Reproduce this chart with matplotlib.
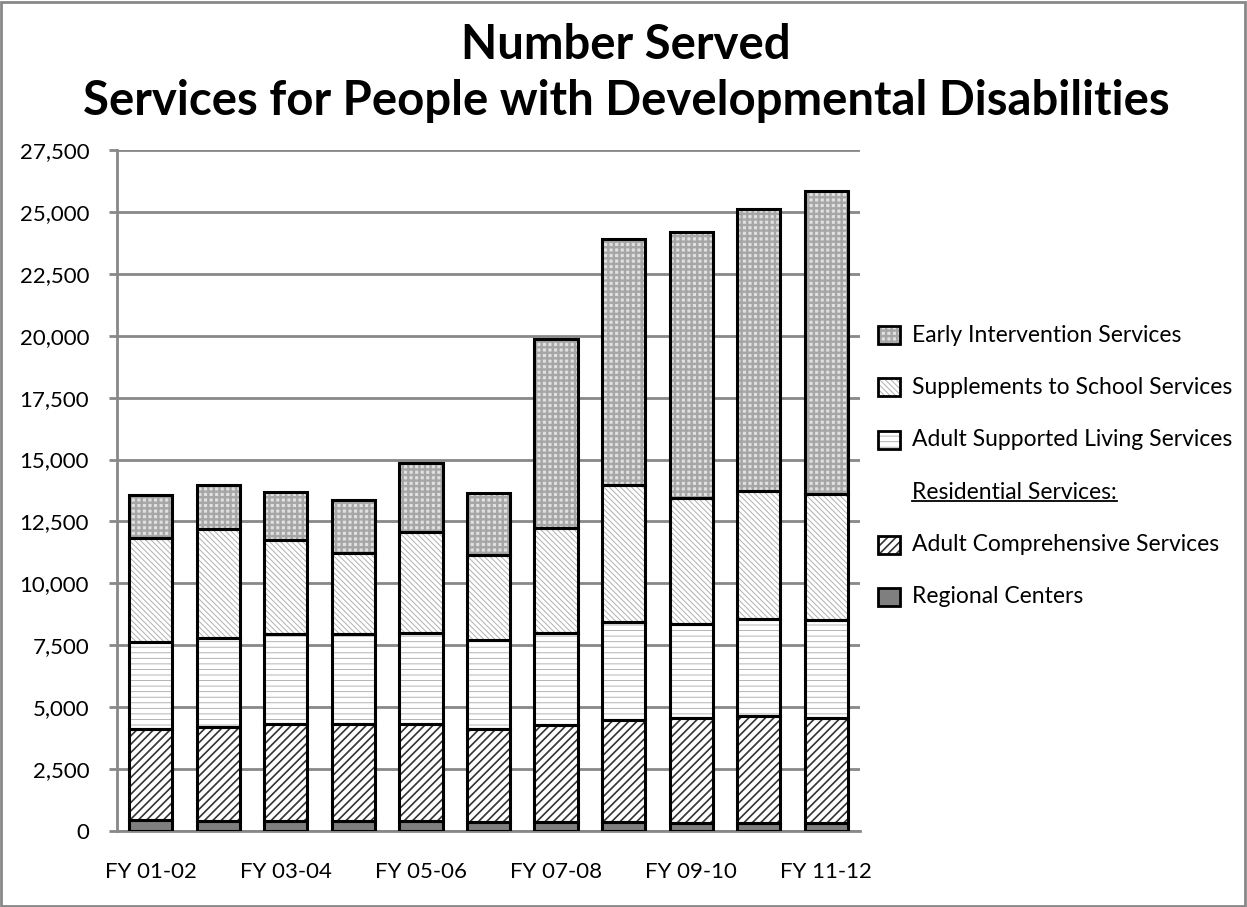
import numpy as np
import matplotlib.pyplot as plt
from matplotlib.patches import Rectangle
from matplotlib.lines import Line2D
from matplotlib.ticker import FuncFormatter

plt.rcParams['font.family'] = ['Lato', 'DejaVu Sans']

# Fiscal years and number served per program (stacked bottom to top)
years = ['FY 01-02', 'FY 02-03', 'FY 03-04', 'FY 04-05', 'FY 05-06', 'FY 06-07',
         'FY 07-08', 'FY 08-09', 'FY 09-10', 'FY 10-11', 'FY 11-12']
regional_centers = [430, 410, 420, 410, 420, 350, 350, 350, 340, 310, 310]
adult_comprehensive = [3680, 3780, 3890, 3900, 3910, 3750, 3920, 4150, 4210, 4330, 4260]
adult_supported_living = [3520, 3590, 3660, 3660, 3680, 3600, 3720, 3930, 3790, 3930, 3950]
school_supplements = [4220, 4400, 3770, 3270, 4070, 3450, 4250, 5540, 5110, 5140, 5100]
early_intervention = [1720, 1790, 1930, 2110, 2780, 2490, 7610, 9950, 10720, 11390, 12220]

# label, values, face colour, hatch, hatch colour, hatch line width
series = [
    ('Regional Centers', regional_centers, '#7f7f7f', '', '#7f7f7f', 1.0),
    ('Adult Comprehensive Services', adult_comprehensive, 'white', '////', '#333333', 1.2),
    ('Adult Supported Living Services', adult_supported_living, 'white', '---', '#a8a8a8', 0.6),
    ('Supplements to School Services', school_supplements, 'white', '\\\\\\\\\\\\', '#b0b0b0', 0.7),
    ('Early Intervention Services', early_intervention, '#e0e0e0', '+++', '#a6a6a6', 1.7),
]

fig = plt.figure(figsize=(12.47, 9.07), dpi=100)
ax = fig.add_axes([0.0938, 0.0838, 0.5959, 0.7508])

x = np.arange(len(years))
width = 0.64
bottom = np.zeros(len(years))
for label, values, face, hatch, hcolor, hlw in series:
    with plt.rc_context({'hatch.linewidth': hlw}):
        ax.bar(x, values, width, bottom=bottom, color=face, hatch=hatch,
               edgecolor=hcolor, linewidth=0, zorder=2)
    ax.bar(x, values, width, bottom=bottom, fill=False, edgecolor='black',
           linewidth=2.2, zorder=3)
    bottom += np.array(values)

ax.set_xlim(-0.5, len(years) - 0.5)
ax.set_ylim(0, 27500)
ax.set_yticks(np.arange(0, 27501, 2500))
ax.yaxis.set_major_formatter(FuncFormatter(lambda v, p: f'{int(v):,}'))
ax.set_xticks(x[::2])
ax.set_xticklabels(years[::2])
ax.tick_params(axis='y', labelsize=16, color='#888888', length=6, width=2, pad=14)
ax.tick_params(axis='x', labelsize=16, length=0, pad=22)
ax.grid(axis='y', color='#888888', linewidth=2, zorder=1)
ax.set_axisbelow(True)
for side in ['top', 'right']:
    ax.spines[side].set_visible(False)
for side in ['left', 'bottom']:
    ax.spines[side].set_color('#888888')
    ax.spines[side].set_linewidth(2)

fig.text(0.502, 0.95, 'Number Served', ha='center', va='center',
         fontsize=34, fontweight='bold')
fig.text(0.502, 0.889, 'Services for People with Developmental Disabilities',
         ha='center', va='center', fontsize=34, fontweight='bold')

# Legend drawn by hand so the "Residential Services:" heading can sit between entries
W, H = 1247, 907
legend_rows = [series[4], series[3], series[2], None, series[1], series[0]]
row_y = 335
for entry in legend_rows:
    yf = 1 - row_y / H
    if entry is None:
        t = fig.text(912 / W, yf, 'Residential Services:', ha='left', va='center',
                     fontsize=16.5)
        fig.canvas.draw()
        bb = t.get_window_extent().transformed(fig.transFigure.inverted())
        fig.add_artist(Line2D([bb.x0, bb.x1], [bb.y0 + 0.002, bb.y0 + 0.002],
                              transform=fig.transFigure, color='black', lw=1.3))
    else:
        label, values, face, hatch, hcolor, hlw = entry
        rx, ry, rw, rh = 878 / W, yf - 9 / H, 22 / W, 18 / H
        with plt.rc_context({'hatch.linewidth': hlw}):
            fig.add_artist(Rectangle((rx, ry), rw, rh, transform=fig.transFigure,
                                     facecolor=face, hatch=hatch, edgecolor=hcolor,
                                     linewidth=0))
        fig.add_artist(Rectangle((rx, ry), rw, rh, transform=fig.transFigure,
                                 fill=False, edgecolor='black', linewidth=2))
        fig.text(912 / W, yf, label, ha='left', va='center', fontsize=16.5)
    row_y += 52.4

# Grey frame around the whole chart
fig.add_artist(Rectangle((0.001, 0.0015), 0.997, 0.996, transform=fig.transFigure,
                         fill=False, edgecolor='#888888', linewidth=2))

fig.savefig('out.png', dpi=100)
